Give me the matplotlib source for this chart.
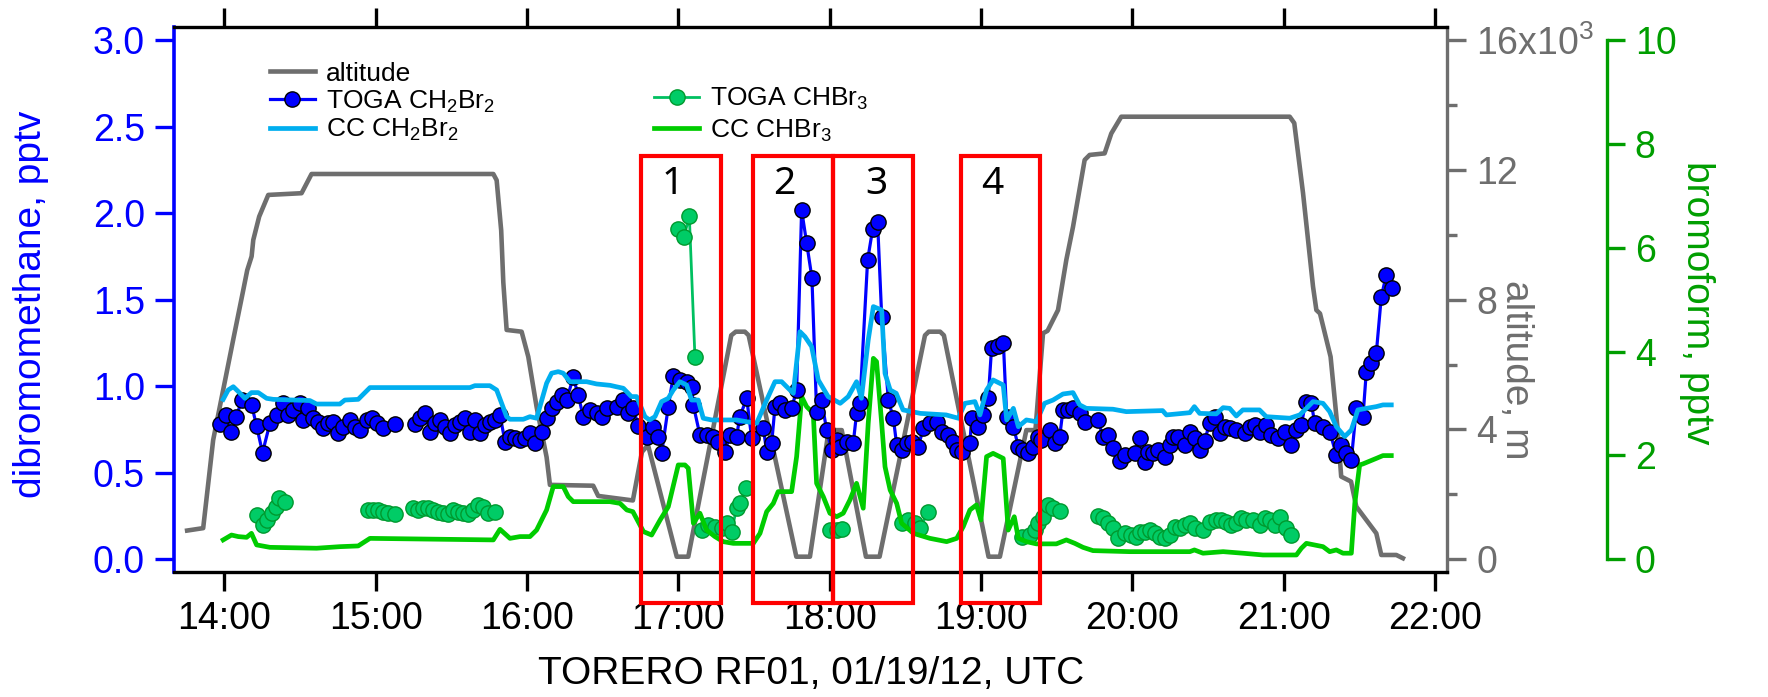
import numpy as np
import matplotlib.pyplot as plt
from matplotlib.ticker import FuncFormatter, FixedLocator
from matplotlib.patches import Rectangle

plt.rcParams['font.family'] = 'Liberation Sans'
plt.rcParams['mathtext.fontset'] = 'custom'
plt.rcParams['mathtext.rm'] = 'Liberation Sans'
plt.rcParams['mathtext.default'] = 'regular'

# times are decimal hours UTC

# aircraft altitude, m
alt_pts = [(13.755, 885), (13.861, 960), (13.927, 3675), (13.993, 5216), (14.059, 6757),
           (14.126, 8299), (14.152, 8907), (14.181, 9333), (14.192, 9840), (14.231, 10560),
           (14.291, 11227), (14.511, 11280), (14.577, 11872), (15.778, 11872), (15.800, 11680),
           (15.830, 10133), (15.844, 8533), (15.866, 7067), (15.965, 7013), (16.009, 6240),
           (16.064, 4693), (16.130, 3147), (16.152, 2293), (16.438, 2267), (16.471, 1952),
           (16.700, 1813), (16.760, 3307), (16.800, 3520), (16.990, 80), (17.066, 80),
           (17.350, 6900), (17.380, 7013), (17.440, 7013), (17.465, 6900), (17.780, 80),
           (17.870, 80), (17.985, 3700), (18.020, 3980), (18.080, 3980), (18.240, 80),
           (18.330, 80), (18.630, 6900), (18.655, 7013), (18.730, 7013), (18.755, 6900),
           (19.050, 80), (19.125, 80), (19.300, 3980), (19.360, 3980), (19.410, 6965),
           (19.440, 7040), (19.509, 7680), (19.564, 9227), (19.608, 10240), (19.685, 12304),
           (19.718, 12459), (19.817, 12507), (19.861, 13120), (19.927, 13637), (21.040, 13637),
           (21.070, 13440), (21.128, 11280), (21.194, 8400), (21.216, 7680), (21.240, 7573),
           (21.310, 6240), (21.357, 3984), (21.380, 2549), (21.445, 2395), (21.480, 1621),
           (21.546, 1211), (21.612, 800), (21.645, 133), (21.744, 133), (21.788, 32)]

# TOGA CH2Br2, pptv
toga_dbm_pts = [(13.971, 0.780), (14.015, 0.834), (14.048, 0.738), (14.081, 0.824), (14.115, 0.920),
                (14.181, 0.892), (14.214, 0.770), (14.253, 0.616), (14.302, 0.786), (14.346, 0.834),
                (14.390, 0.901), (14.423, 0.834), (14.456, 0.863), (14.500, 0.901), (14.522, 0.805),
                (14.555, 0.872), (14.588, 0.815), (14.621, 0.795), (14.654, 0.757), (14.687, 0.786),
                (14.720, 0.795), (14.753, 0.728), (14.786, 0.766), (14.830, 0.805), (14.863, 0.766),
                (14.896, 0.747), (14.941, 0.805), (14.974, 0.815), (15.007, 0.786), (15.051, 0.757),
                (15.128, 0.782), (15.190, np.nan), (15.260, 0.782), (15.293, 0.815), (15.326, 0.843),
                (15.359, 0.738), (15.392, 0.786), (15.425, 0.805), (15.458, 0.766), (15.491, 0.728),
                (15.524, 0.776), (15.557, 0.795), (15.590, 0.815), (15.623, 0.738), (15.656, 0.805),
                (15.689, 0.728), (15.722, 0.776), (15.756, 0.795), (15.789, 0.805), (15.822, 0.834),
                (15.855, 0.680), (15.888, 0.709), (15.921, 0.699), (15.954, 0.689), (15.987, 0.699),
                (16.020, 0.728), (16.053, 0.670), (16.097, 0.738), (16.130, 0.815), (16.163, 0.872),
                (16.196, 0.911), (16.229, 0.949), (16.262, 0.920), (16.306, 1.051), (16.339, 0.949),
                (16.372, 0.824), (16.416, 0.863), (16.460, 0.843), (16.493, 0.824), (16.526, 0.872),
                (16.593, 0.882), (16.637, 0.920), (16.670, 0.843), (16.703, 0.872), (16.736, 0.770),
                (16.791, 0.709), (16.835, 0.766), (16.868, 0.709), (16.890, 0.612), (16.934, 0.882),
                (16.967, 1.059), (17.011, 1.036), (17.055, 1.026), (17.088, 0.997), (17.099, 0.892),
                (17.143, 0.718), (17.187, 0.718), (17.231, 0.709), (17.264, 0.680), (17.308, 0.622),
                (17.341, 0.718), (17.385, 0.709), (17.407, 0.824), (17.452, 0.930), (17.485, 0.699),
                (17.562, 0.757), (17.584, 0.622), (17.617, 0.670), (17.639, 0.882), (17.672, 0.901),
                (17.705, 0.863), (17.749, 0.872), (17.782, 0.978), (17.815, 2.018), (17.848, 1.829),
                (17.883, 1.627), (17.914, 0.853), (17.947, 0.920), (17.980, 0.747), (18.013, 0.632),
                (18.046, 0.689), (18.068, 0.651), (18.112, 0.680), (18.156, 0.670), (18.178, 0.843),
                (18.200, 0.901), (18.251, 1.729), (18.284, 1.906), (18.317, 1.947), (18.344, 1.402),
                (18.388, 0.920), (18.421, 0.815), (18.443, 0.661), (18.476, 0.632), (18.509, 0.670),
                (18.542, 0.680), (18.586, 0.651), (18.619, 0.757), (18.663, 0.786), (18.707, 0.795),
                (18.740, 0.738), (18.784, 0.718), (18.817, 0.680), (18.839, 0.632), (18.872, 0.622),
                (18.927, 0.670), (18.938, 0.815), (18.982, 0.766), (19.015, 0.834), (19.048, 0.930),
                (19.070, 1.219), (19.115, 1.232), (19.148, 1.252), (19.170, 0.824), (19.214, 0.766),
                (19.247, 0.651), (19.280, 0.632), (19.313, 0.612), (19.346, 0.651), (19.379, 0.709),
                (19.399, 0.689), (19.454, 0.747), (19.487, 0.670), (19.520, 0.709), (19.542, 0.863),
                (19.575, 0.863), (19.608, 0.872), (19.652, 0.843), (19.685, 0.795), (19.773, 0.805),
                (19.806, 0.709), (19.839, 0.718), (19.872, 0.641), (19.916, 0.570), (19.949, 0.603),
                (20.015, 0.612), (20.048, 0.699), (20.081, 0.564), (20.104, 0.622), (20.137, 0.612),
                (20.170, 0.632), (20.214, 0.593), (20.247, 0.661), (20.269, 0.709), (20.302, 0.709),
                (20.346, 0.661), (20.379, 0.738), (20.412, 0.699), (20.445, 0.632), (20.478, 0.686),
                (20.511, 0.786), (20.544, 0.824), (20.577, 0.728), (20.610, 0.766), (20.643, 0.757),
                (20.687, 0.747), (20.742, 0.728), (20.775, 0.766), (20.808, 0.776), (20.841, 0.738),
                (20.885, 0.776), (20.919, 0.718), (20.963, 0.699), (21.007, 0.738), (21.051, 0.661),
                (21.084, 0.747), (21.117, 0.776), (21.145, 0.911), (21.183, 0.901), (21.205, 0.786),
                (21.260, 0.766), (21.304, 0.738), (21.348, 0.603), (21.381, 0.661), (21.414, 0.612),
                (21.447, 0.574), (21.480, 0.872), (21.524, 0.824), (21.546, 1.084), (21.579, 1.132),
                (21.612, 1.190), (21.645, 1.517), (21.678, 1.643), (21.718, 1.570)]

# CC model CH2Br2, pptv
cc_dbm_pts = [(13.993, 0.924), (14.026, 0.978), (14.060, 0.997), (14.093, 0.969), (14.137, 0.930),
              (14.180, 0.963), (14.225, 0.963), (14.280, 0.930), (14.324, 0.924), (14.566, 0.917),
              (14.610, 0.897), (14.764, 0.897), (14.797, 0.920), (14.885, 0.924), (14.963, 0.992),
              (15.623, 0.992), (15.656, 1.003), (15.755, 1.003), (15.800, 0.978), (15.866, 0.824),
              (15.888, 0.809), (15.976, 0.809), (16.020, 0.824), (16.064, 0.815), (16.130, 1.017),
              (16.163, 1.075), (16.207, 1.084), (16.240, 1.075), (16.284, 1.026), (16.394, 1.026),
              (16.460, 1.013), (16.550, 1.005), (16.590, 0.997), (16.637, 0.988), (16.690, 0.940),
              (16.725, 0.940), (16.780, 0.824), (16.810, 0.805), (16.846, 0.824), (16.890, 0.911),
              (16.934, 0.930), (16.967, 0.978), (17.011, 1.026), (17.055, 1.007), (17.088, 0.920),
              (17.132, 0.920), (17.165, 0.815), (17.220, 0.805), (17.385, 0.805), (17.450, 0.795),
              (17.518, 0.786), (17.584, 0.920), (17.639, 1.026), (17.683, 1.026), (17.716, 0.997),
              (17.760, 0.959), (17.804, 1.315), (17.837, 1.286), (17.881, 1.229), (17.925, 1.036),
              (17.990, 0.940), (18.070, 0.901), (18.123, 0.940), (18.178, 1.026), (18.210, 0.930),
              (18.255, 1.267), (18.289, 1.460), (18.344, 1.440), (18.366, 1.074), (18.400, 0.978),
              (18.440, 0.959), (18.485, 0.863), (18.600, 0.843), (18.770, 0.834), (18.850, 0.815),
              (18.894, 0.901), (18.960, 0.911), (18.993, 0.834), (19.037, 0.978), (19.080, 1.036),
              (19.147, 1.007), (19.170, 0.805), (19.214, 0.872), (19.247, 0.766), (19.300, 0.805),
              (19.366, 0.795), (19.420, 0.901), (19.476, 0.920), (19.542, 0.955), (19.608, 0.963),
              (19.652, 0.892), (19.696, 0.872), (19.872, 0.867), (19.960, 0.853), (20.200, 0.859),
              (20.225, 0.834), (20.380, 0.847), (20.410, 0.882), (20.445, 0.843), (20.555, 0.840),
              (20.600, 0.876), (20.643, 0.872), (20.687, 0.828), (20.730, 0.863), (20.840, 0.863),
              (20.885, 0.824), (21.040, 0.815), (21.106, 0.834), (21.150, 0.872), (21.194, 0.911),
              (21.260, 0.901), (21.304, 0.853), (21.348, 0.766), (21.403, 0.709), (21.447, 0.747),
              (21.490, 0.863), (21.546, 0.872), (21.612, 0.882), (21.656, 0.892), (21.711, 0.892)]

# TOGA CHBr3, pptv
toga_bf_pts = [(14.218, 0.854), (14.253, 0.661), (14.280, 0.757), (14.313, 0.886), (14.341, 1.014),
               (14.363, 1.175), (14.401, 1.110), (14.60, np.nan),
               (14.952, 0.950), (14.985, 0.950), (15.018, 0.950), (15.051, 0.918), (15.084, 0.886),
               (15.128, 0.873), (15.19, np.nan),
               (15.249, 0.982), (15.282, 0.950), (15.315, 0.982), (15.348, 0.982), (15.381, 0.950),
               (15.414, 0.918), (15.447, 0.886), (15.480, 0.873), (15.513, 0.950), (15.546, 0.918),
               (15.579, 0.886), (15.612, 0.873), (15.645, 0.950), (15.678, 1.046), (15.711, 1.001),
               (15.744, 0.886), (15.789, 0.918), (16.40, np.nan),
               (17.000, 6.353), (17.037, 6.200), (17.073, 6.610), (17.110, 3.903), (17.13, np.nan),
               (17.154, 0.565), (17.198, 0.661), (17.242, 0.629), (17.286, 0.597), (17.319, 0.693),
               (17.352, 0.533), (17.385, 0.982), (17.407, 1.078), (17.447, 1.367), (17.70, np.nan),
               (18.002, 0.565), (18.046, 0.565), (18.079, 0.578), (18.30, np.nan),
               (18.476, 0.693), (18.520, 0.757), (18.564, 0.693), (18.597, 0.597), (18.652, 0.918),
               (18.90, np.nan),
               (19.269, 0.436), (19.324, 0.469), (19.357, 0.565), (19.379, 0.693), (19.410, 0.822),
               (19.443, 1.046), (19.476, 0.982), (19.520, 0.937), (19.65, np.nan),
               (19.773, 0.834), (19.806, 0.789), (19.839, 0.693), (19.872, 0.597), (19.905, 0.404),
               (19.949, 0.501), (19.993, 0.469), (20.026, 0.436), (20.048, 0.533), (20.081, 0.533),
               (20.115, 0.565), (20.148, 0.501), (20.181, 0.436), (20.214, 0.404), (20.247, 0.469),
               (20.280, 0.629), (20.313, 0.597), (20.346, 0.661), (20.379, 0.693), (20.412, 0.597),
               (20.467, 0.565), (20.511, 0.725), (20.555, 0.757), (20.588, 0.757), (20.621, 0.725),
               (20.654, 0.661), (20.687, 0.693), (20.720, 0.789), (20.753, 0.757), (20.797, 0.757),
               (20.841, 0.661), (20.874, 0.789), (20.907, 0.757), (20.941, 0.661), (20.974, 0.822),
               (21.018, 0.597), (21.051, 0.469)]

# CC model CHBr3, pptv
cc_bf_pts = [(13.993, 0.373), (14.048, 0.467), (14.093, 0.437), (14.148, 0.423), (14.180, 0.500),
             (14.214, 0.277), (14.302, 0.230), (14.610, 0.213), (14.764, 0.243), (14.885, 0.257),
             (14.963, 0.403), (15.778, 0.373), (15.822, 0.577), (15.888, 0.403), (15.954, 0.437),
             (16.020, 0.437), (16.064, 0.563), (16.130, 0.950), (16.174, 1.400), (16.240, 1.400),
             (16.273, 1.207), (16.306, 1.110), (16.548, 1.110), (16.615, 1.077), (16.660, 0.950),
             (16.700, 0.917), (16.770, 0.533), (16.824, 0.467), (16.880, 0.757), (16.934, 1.013),
             (17.000, 1.817), (17.044, 1.817), (17.066, 1.753), (17.100, 0.693), (17.143, 0.887),
             (17.187, 0.563), (17.242, 0.437), (17.297, 0.340), (17.363, 0.307), (17.496, 0.307),
             (17.540, 0.500), (17.584, 0.917), (17.628, 1.077), (17.660, 1.303), (17.749, 1.303),
             (17.782, 1.977), (17.815, 3.133), (17.848, 2.940), (17.892, 2.810), (17.914, 1.463),
             (17.958, 1.207), (18.002, 0.887), (18.046, 0.820), (18.090, 0.887), (18.134, 1.143),
             (18.178, 1.463), (18.222, 0.983), (18.255, 2.620), (18.289, 3.870), (18.310, 3.807),
             (18.344, 2.620), (18.366, 1.783), (18.400, 1.333), (18.443, 1.077), (18.476, 0.693),
             (18.553, 0.500), (18.663, 0.403), (18.773, 0.340), (18.840, 0.403), (18.883, 0.630),
             (18.927, 0.950), (18.970, 1.047), (19.000, 0.757), (19.037, 1.977), (19.080, 2.040),
             (19.147, 1.943), (19.180, 0.563), (19.220, 0.820), (19.247, 0.403), (19.300, 0.340),
             (19.366, 0.297), (19.498, 0.297), (19.564, 0.373), (19.620, 0.307), (19.674, 0.230),
             (19.740, 0.167), (19.982, 0.147), (20.380, 0.147), (20.410, 0.180), (20.467, 0.117),
             (20.600, 0.147), (20.730, 0.117), (20.863, 0.083), (21.084, 0.083), (21.117, 0.213),
             (21.150, 0.307), (21.260, 0.243), (21.304, 0.147), (21.348, 0.180), (21.392, 0.117),
             (21.447, 0.117), (21.470, 1.077), (21.502, 1.817), (21.524, 1.837), (21.612, 1.943),
             (21.656, 1.997), (21.711, 1.997)]

# highlighted profile periods (start, end hour) and their numbers
box_start = [16.752, 17.496, 18.025, 18.867]
box_end = [17.281, 18.025, 18.554, 19.387]
box_names = ['1', '2', '3', '4']
box_label_x = [16.964, 17.700, 18.307, 19.072]

alt_t, alt_m = np.array(alt_pts).T
toga_dbm_t, toga_dbm = np.array(toga_dbm_pts).T
cc_dbm_t, cc_dbm = np.array(cc_dbm_pts).T
toga_bf_t, toga_bf = np.array(toga_bf_pts).T
cc_bf_t, cc_bf = np.array(cc_bf_pts).T

BLUE = '#0000FF'
GRAY = '#6E6E6E'
GREEN_AX = '#009E00'

fig = plt.figure(figsize=(17.68, 6.97), dpi=100)
ax = fig.add_axes([0.0984, 0.1798, 0.7202, 0.7819])
ax_alt = ax.twinx()
ax_br = ax.twinx()
ax_alt.set_zorder(1)
ax_br.set_zorder(2)
ax.set_zorder(3)
ax.patch.set_visible(False)

l_alt, = ax_alt.plot(alt_t, alt_m, color=GRAY, lw=3.3, solid_joinstyle='round',
                     label='altitude')
l_toga_bf, = ax_br.plot(toga_bf_t, toga_bf, color='#00C060', lw=2.0, marker='o', ms=11,
                        mfc='#00CC66', mec='#00992E', mew=1.0, label='TOGA CHBr$_3$')
l_cc_bf, = ax_br.plot(cc_bf_t, cc_bf, color='#00CC00', lw=3.4, solid_joinstyle='round',
                      label='CC CHBr$_3$')
l_toga_dbm, = ax.plot(toga_dbm_t, toga_dbm, color=BLUE, lw=2.3, marker='o', ms=11,
                      mfc=BLUE, mec='black', mew=1.0, label='TOGA CH$_2$Br$_2$')
l_cc_dbm, = ax.plot(cc_dbm_t, cc_dbm, color='#00AEEF', lw=3.4, solid_joinstyle='round',
                    label='CC CH$_2$Br$_2$')

# red boxes around the profile periods
for x0, x1, name, xl in zip(box_start, box_end, box_names, box_label_x):
    ax.add_patch(Rectangle((x0, -0.254), x1 - x0, 2.584, fill=False, ec='#FF0000',
                           lw=3.0, clip_on=False, zorder=10))
    ax.text(xl, 2.17, name, fontsize=28, family='Noto Sans', ha='center', va='center',
            zorder=11)

# shared time axis
ax.set_xlim(13.668, 22.081)
ax.set_xticks(np.arange(14, 23, 1))
ax.xaxis.set_major_formatter(FuncFormatter(lambda v, p: '%d:00' % round(v)))
ax.tick_params(axis='x', which='major', top=True, labeltop=False, direction='out',
               length=14, width=2.4, labelsize=27, pad=7, color='black')
ax.set_xlabel('TORERO RF01, 01/19/12, UTC', fontsize=28)
ax.xaxis.set_label_coords(0.5003, -0.1877)
ax.xaxis.label.set_va('center')

# left axis: dibromomethane
ax.set_ylim(-0.0716, 3.077)
ax.set_yticks(np.arange(0, 3.01, 0.5))
ax.yaxis.set_major_formatter(FuncFormatter(lambda v, p: '%.1f' % v))
ax.tick_params(axis='y', direction='out', length=14, width=2.4, labelsize=27, pad=7,
               colors=BLUE)
ax.set_ylabel('dibromomethane, pptv', color=BLUE, fontsize=28, va='center')
ax.yaxis.set_label_coords(-0.1123, 0.49)

# right axis: altitude
ax_alt.set_ylim(-0.0716 * 16000 / 3, 3.077 * 16000 / 3)
ax_alt.yaxis.set_major_locator(FixedLocator([0, 4000, 8000, 12000, 16000]))
ax_alt.yaxis.set_minor_locator(FixedLocator([2000, 6000, 10000, 14000]))
ax_alt.yaxis.set_major_formatter(
    FuncFormatter(lambda v, p: '16x10$^{3}$' if v == 16000 else '%d' % (v / 1000)))
ax_alt.tick_params(axis='y', which='major', direction='out', length=14, width=2.4,
                   labelsize=27, pad=7, colors=GRAY)
ax_alt.tick_params(axis='y', which='minor', direction='out', length=7, width=2.4,
                   colors=GRAY)
ax_alt.set_ylabel('altitude, m', color=GRAY, fontsize=28, rotation=270, va='center')
ax_alt.yaxis.set_label_coords(1.054, 0.37)

# outer right axis: bromoform
ax_br.set_ylim(-0.0716 * 10 / 3, 3.077 * 10 / 3)
ax_br.set_yticks(np.arange(0, 11, 2))
ax_br.tick_params(axis='y', direction='out', length=13, width=2.4, labelsize=27, pad=7,
                  colors=GREEN_AX)
ax_br.spines['right'].set_position(('axes', 1.1254))
ax_br.spines['right'].set_bounds(0, 10)
ax_br.set_ylabel('bromoform, pptv', color=GREEN_AX, fontsize=28, rotation=270, va='center')
ax_br.yaxis.set_label_coords(1.196, 0.493)

for s in ['left', 'top', 'bottom']:
    ax_alt.spines[s].set_visible(False)
    ax_br.spines[s].set_visible(False)
ax.spines['right'].set_visible(False)
ax_alt.spines['right'].set_color(GRAY)
ax_alt.spines['right'].set_linewidth(2.4)
ax_br.spines['right'].set_color(GREEN_AX)
ax_br.spines['right'].set_linewidth(2.4)
ax.spines['left'].set_color(BLUE)
ax.spines['left'].set_linewidth(2.6)
ax.spines['top'].set_linewidth(2.4)
ax.spines['bottom'].set_linewidth(2.4)

# legends: dibromomethane column and bromoform column
leg1 = ax.legend(handles=[l_alt, l_toga_dbm, l_cc_dbm], loc='upper left',
                 bbox_to_anchor=(0.1527, 0.9115), bbox_transform=fig.transFigure,
                 frameon=False, fontsize=19, handlelength=1.7, handletextpad=0.42,
                 labelspacing=0.1, borderpad=0, borderaxespad=0)
ax.add_artist(leg1)
ax.legend(handles=[l_toga_bf, l_cc_bf], loc='upper left',
          bbox_to_anchor=(0.370, 0.8766), bbox_transform=fig.transFigure,
          frameon=False, fontsize=19, handlelength=1.7, handletextpad=0.42,
          labelspacing=0.2, borderpad=0, borderaxespad=0)

fig.savefig('out.png', dpi=100)
